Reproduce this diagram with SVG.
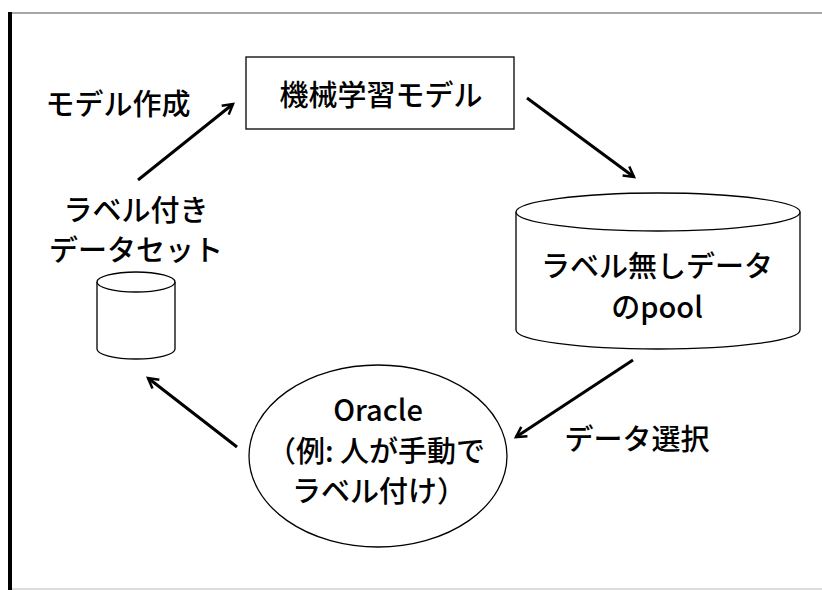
<svg xmlns="http://www.w3.org/2000/svg" width="822" height="590" viewBox="0 0 822 590">
  <style>
    .lbl { font-family: "Noto Sans CJK JP", "Noto Sans", sans-serif; font-size: 29px; font-weight: 500; fill: #000; text-anchor: middle; }
    .shape { fill: #fff; stroke: #000; stroke-width: 1.3; }
    .conn { stroke: #000; stroke-width: 3; fill: none; marker-end: url(#chevron); }
  </style>
  <defs>
    <marker id="chevron" viewBox="0 0 12 12" refX="10" refY="6" markerWidth="5" markerHeight="5" orient="auto" markerUnits="strokeWidth">
      <path d="M2,1.5 L10,6 L2,10.5" fill="none" stroke="#000" stroke-width="2"/>
    </marker>
  </defs>
  <rect width="822" height="590" fill="#fff"/>

  <!-- frame -->
  <line x1="12" y1="13" x2="822" y2="13" stroke="#8a8a8a" stroke-width="1.5"/>
  <line x1="10" y1="12" x2="10" y2="590" stroke="#000" stroke-width="4"/>
  <line x1="12" y1="589" x2="822" y2="589" stroke="#d0d0d0" stroke-width="1.5"/>

  <!-- connectors -->
  <g id="connectors">
    <line class="conn" x1="138" y1="180" x2="233" y2="104"/>
    <line class="conn" x1="527" y1="98" x2="634" y2="177"/>
    <line class="conn" x1="633" y1="360" x2="516" y2="437"/>
    <line class="conn" x1="237" y1="447" x2="148" y2="378"/>
    <text class="lbl" x="118" y="115">モデル作成</text>
    <text class="lbl" x="637" y="450">データ選択</text>
  </g>

  <!-- model box -->
  <g id="model">
    <rect class="shape" x="246" y="57" width="268" height="72"/>
    <text class="lbl" x="381" y="106">機械学習モデル</text>
  </g>

  <!-- unlabeled pool cylinder -->
  <g id="pool">
    <path class="shape" d="M516,212 L516,330 A142,19 0 0 0 800,330 L800,212"/>
    <ellipse class="shape" cx="658" cy="212" rx="142" ry="19"/>
    <text class="lbl" x="657" y="277">ラベル無しデータ</text>
    <text class="lbl" x="657" y="318">のpool</text>
  </g>

  <!-- oracle -->
  <g id="oracle">
    <ellipse class="shape" cx="378" cy="456" rx="129" ry="91"/>
    <text class="lbl" x="378" y="421">Oracle</text>
    <text class="lbl" x="376" y="462">（例: 人が手動で</text>
    <text class="lbl" x="379" y="502">ラベル付け）</text>
  </g>

  <!-- labeled dataset -->
  <g id="labeled">
    <text class="lbl" x="136" y="221">ラベル付き</text>
    <text class="lbl" x="136" y="261">データセット</text>
    <path class="shape" d="M97,282 L97,349 A39,10 0 0 0 175,349 L175,282"/>
    <ellipse class="shape" cx="136" cy="282" rx="39" ry="10"/>
  </g>
</svg>
